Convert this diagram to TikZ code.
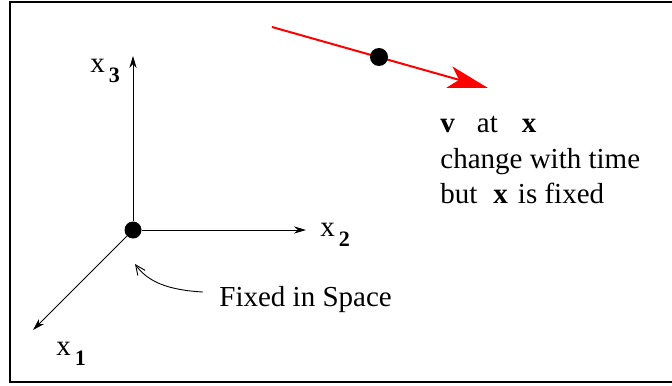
\documentclass[tikz,border=0pt]{standalone}
\usepackage{fontspec}
\setmainfont{Liberation Serif}
\usetikzlibrary{arrows.meta, positioning}

\newcommand{\axlabel}[1]{x\hspace{2pt}\raisebox{-5pt}{\fontsize{11}{11}\selectfont\bfseries #1}}

\begin{document}
\begin{tikzpicture}[x=0.5pt,y=-0.5pt,
    every node/.style={font=\fontsize{14.5}{17}\selectfont,inner sep=0pt},
    axis/.style={line width=0.45pt,-{Stealth[length=6pt,width=3.6pt]}},
    blob/.style={fill,circle,minimum size=8.5pt}]
    \useasboundingbox (0,0) rectangle (672,385);
    \draw[line width=1pt] (10,2) rectangle (673,382);

    % axes
    \node[blob] (o) at (133,230) {};
    \coordinate (e1) at (33,330);
    \coordinate (e2) at (306,230);
    \coordinate (e3) at (133,56);
    \draw[axis] (o) -- (e1);
    \draw[axis] (o.east) -- (e2);
    \draw[axis] (o.north) -- (e3);
    \node[anchor=base west] (l1) at (56,355) {\axlabel{1}};
    \node[anchor=base west] (l2) at (320,236) {\axlabel{2}};
    \node[anchor=base west] (l3) at (90,73) {\axlabel{3}};

    % fixed point
    \node[anchor=base west] (fixed) at (219,306) {Fixed in Space};
    \draw[line width=0.45pt,-{Straight Barb[length=5pt,width=4.5pt]}]
    (fixed.west) ++(-16,-7) coordinate (c0) .. controls (168,290) and (148,282) .. (135,264);

    % moving particle
    \coordinate (r0) at (272,27);
    \coordinate (r1) at (488,88);
    \draw[red,line width=1pt,-{Stealth[length=20pt,width=11pt,inset=5pt]}] (r0) -- (r1);
    \node[blob,minimum width=8pt,minimum height=9pt] (p) at (379,57) {};

    \node[anchor=base west] (t1) at (440,132) {\textbf{v}\hspace{11pt}at\hspace{12pt}\textbf{x}};
    \node[anchor=base west] (t2) at (440,168) {change with time};
    \node[anchor=base west] (t3) at (440,203) {but\hspace{8pt}\textbf{x}\hspace{5pt}is fixed};
\end{tikzpicture}
\end{document}
